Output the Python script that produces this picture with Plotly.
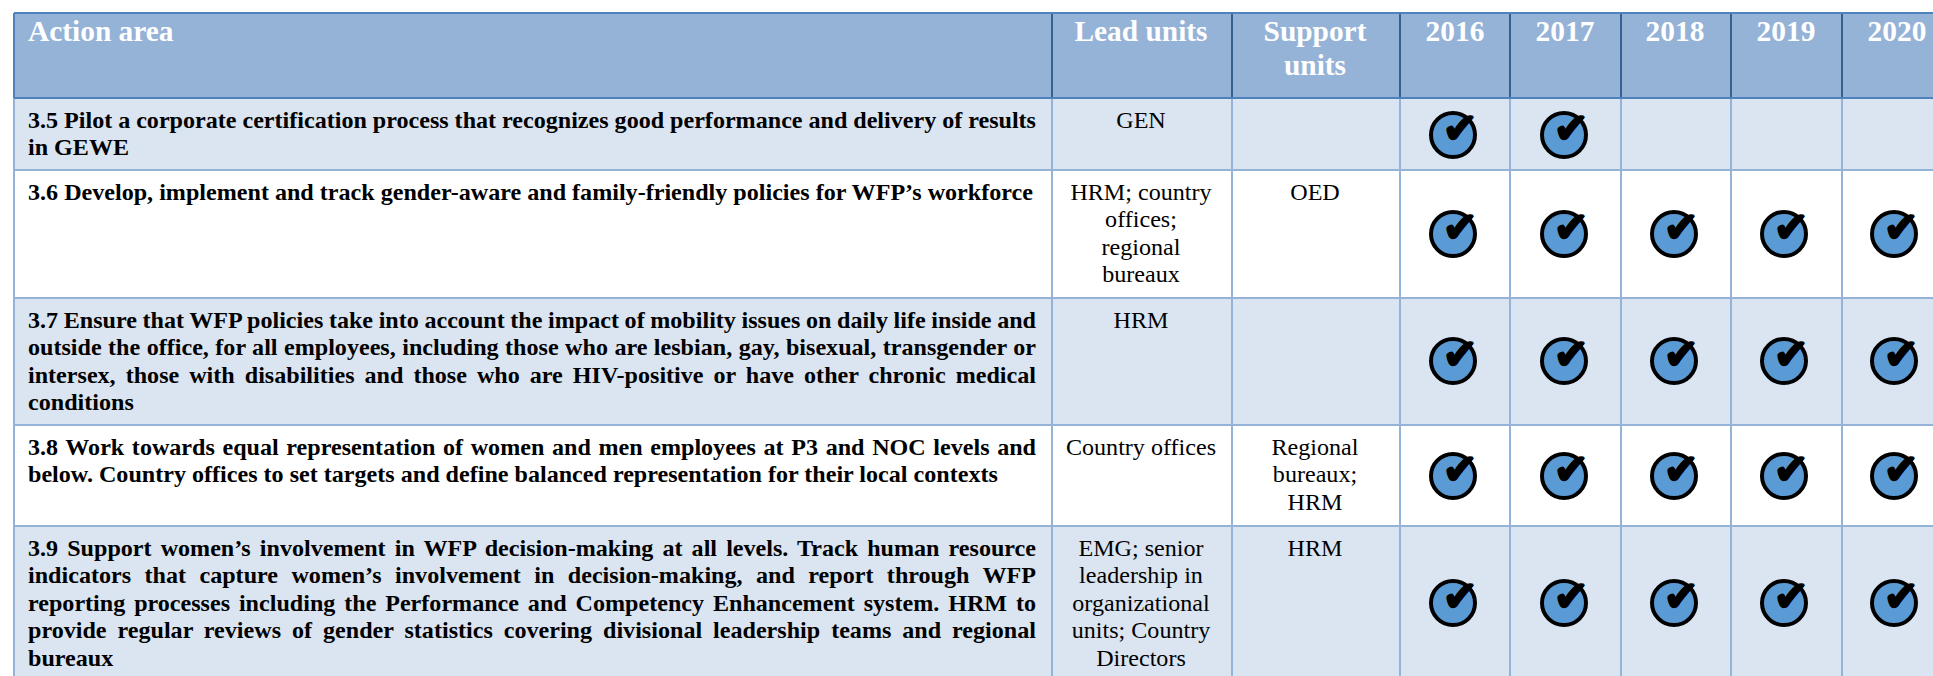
import json
import plotly.graph_objects as go

# ---------- content ----------
headers = ["Action area", "Lead units", "Support<br>units", "2016", "2017", "2018", "2019", "2020"]
years = ["2016", "2017", "2018", "2019", "2020"]

action_lines = [
    ["3.5 Pilot a corporate certification process that recognizes good performance and delivery of results",
     "in GEWE"],
    ["3.6 Develop, implement and track gender-aware and family-friendly policies for WFP’s workforce"],
    ["3.7 Ensure that WFP policies take into account the impact of mobility issues on daily life inside and",
     "outside the office, for all employees, including those who are lesbian, gay, bisexual, transgender or",
     "intersex, those with disabilities and those who are HIV-positive or have other chronic medical",
     "conditions"],
    ["3.8 Work towards equal representation of women and men employees at P3 and NOC levels and",
     "below. Country offices to set targets and define balanced representation for their local contexts"],
    ["3.9 Support women’s involvement in WFP decision-making at all levels. Track human resource",
     "indicators that capture women’s involvement in decision-making, and report through WFP",
     "reporting processes including the Performance and Competency Enhancement system. HRM to",
     "provide regular reviews of gender statistics covering divisional leadership teams and regional",
     "bureaux"],
]
lead_lines = [
    ["GEN"],
    ["HRM; country", "offices;", "regional", "bureaux"],
    ["HRM"],
    ["Country offices"],
    ["EMG; senior", "leadership in", "organizational", "units; Country", "Directors"],
]
support_lines = [
    [],
    ["OED"],
    [],
    ["Regional", "bureaux;", "HRM"],
    ["HRM"],
]
checked = [
    [1, 1, 0, 0, 0],
    [1, 1, 1, 1, 1],
    [1, 1, 1, 1, 1],
    [1, 1, 1, 1, 1],
    [1, 1, 1, 1, 1],
]
justified = [
    action_lines[0][0],
    action_lines[2][0], action_lines[2][1], action_lines[2][2],
    action_lines[3][0],
    action_lines[4][0], action_lines[4][1], action_lines[4][2], action_lines[4][3],
]

# ---------- page geometry ----------
W, H = 1933, 676
col_edges = [14, 1052, 1232, 1400, 1510, 1621, 1731, 1842, 1933]
header_centres = [None, 1141, 1315, 1455, 1565, 1675, 1786, 1897]
row_edges = [13, 98, 170, 298, 425, 526, 676]
check_x = [1453, 1564, 1674, 1784, 1894]
check_y = [135, 234, 361, 476, 603]
text_left, text_right = 28, 1036
first_line_offset = 23.5
line_height = 27.6

# ---------- colours ----------
HEAD_FILL = "#95B3D7"
BAND_FILL = "#DBE5F1"
GRID = "#95B3D7"
HEAD_EDGE = "#4F81BD"
HEAD_DIV = "#366092"
SERIF = "Liberation Serif"

shapes = []
def rect(x0, y0, x1, y1, fill):
    shapes.append(dict(type="rect", x0=x0, x1=x1, y0=y0, y1=y1, fillcolor=fill,
                       line_width=0, layer="below"))
def line(x0, y0, x1, y1, color, width):
    shapes.append(dict(type="line", x0=x0, x1=x1, y0=y0, y1=y1,
                       line=dict(color=color, width=width), layer="below"))

rect(col_edges[0], row_edges[0], W, row_edges[1], HEAD_FILL)
for i in range(5):
    if i % 2 == 0:
        rect(col_edges[0], row_edges[i + 1], W, row_edges[i + 2], BAND_FILL)
for y in row_edges[2:-1]:
    line(col_edges[0], y, W, y, GRID, 2)
for x in col_edges[:-1]:
    line(x, row_edges[1], x, H, GRID, 2)
for x in col_edges[1:-1]:
    line(x, row_edges[0], x, row_edges[1], HEAD_DIV, 2)
line(col_edges[0], row_edges[0], W, row_edges[0], HEAD_EDGE, 2)
line(col_edges[0], row_edges[1], W, row_edges[1], HEAD_EDGE, 2)
line(col_edges[0], row_edges[0], col_edges[0], row_edges[1], HEAD_EDGE, 2)

fig = go.Figure()

def add_text(xs, ys, texts, size, color, bold, pos):
    fig.add_trace(go.Scatter(
        x=xs, y=ys, text=texts, mode="text", textposition=pos, hoverinfo="skip",
        cliponaxis=False, showlegend=False,
        textfont=dict(family=SERIF, size=size, color=color,
                      weight="bold" if bold else "normal")))

# header
hx, hy, ht = [text_left], [34], [headers[0]]
for j, h in enumerate(headers[1:], start=1):
    for k, part in enumerate(h.split("<br>")):
        hx.append(header_centres[j]); hy.append(34 + 34 * k); ht.append(part)
add_text(hx[:1], hy[:1], ht[:1], 29.4, "white", True, "middle right")
add_text(hx[1:], hy[1:], ht[1:], 29.4, "white", True, "middle center")

# body
ax, ay, at = [], [], []
cx_, cy_, ct_ = [], [], []
for i in range(5):
    top = row_edges[i + 1] + first_line_offset
    for k, t in enumerate(action_lines[i]):
        ax.append(text_left); ay.append(top + k * line_height); at.append(t)
    for k, t in enumerate(lead_lines[i]):
        cx_.append(1141); cy_.append(top + k * line_height); ct_.append(t)
    for k, t in enumerate(support_lines[i]):
        cx_.append(1315); cy_.append(top + k * line_height); ct_.append(t)
add_text(ax, ay, at, 24.1, "black", True, "middle right")
add_text(cx_, cy_, ct_, 24.1, "black", False, "middle center")

# check marks
mx, my = [], []
for i, row in enumerate(checked):
    for j, v in enumerate(row):
        if v:
            mx.append(check_x[j]); my.append(check_y[i])
fig.add_trace(go.Scatter(
    x=mx, y=my, mode="markers", hoverinfo="skip", showlegend=False, cliponaxis=False,
    marker=dict(symbol="circle", size=44, color="#5B9BD5", line=dict(color="black", width=4))))
fig.add_trace(go.Scatter(
    x=[v + 7 for v in mx], y=[v - 3 for v in my], mode="text", text=["✔"] * len(mx),
    textposition="middle center", hoverinfo="skip", showlegend=False, cliponaxis=False,
    textfont=dict(family="DejaVu Sans", size=42, color="black",
                  shadow="1px 0 0 black, -1px 0 0 black, 0 1px 0 black, 0 -1px 0 black")))

fig.update_layout(
    width=W, height=H, margin=dict(l=0, r=0, t=0, b=0), autosize=False,
    paper_bgcolor="white", plot_bgcolor="white", shapes=shapes, showlegend=False,
    xaxis=dict(range=[0, W], visible=False, fixedrange=True),
    yaxis=dict(range=[H, 0], visible=False, fixedrange=True),
)

post = """
document.body.style.margin = '0';
document.documentElement.style.overflow = 'hidden';
(function () {
  var just = new Set(%s), target = %d;
  document.querySelectorAll('.textpoint text').forEach(function (t) {
    var s = t.textContent;
    if (!just.has(s)) return;
    var gaps = s.split(' ').length - 1;
    t.style.wordSpacing = ((target - t.getComputedTextLength()) / gaps) + 'px';
  });
})();
""" % (json.dumps(justified), text_right - text_left)

fig.write_html("out.html", post_script=post, config={"displayModeBar": False})
